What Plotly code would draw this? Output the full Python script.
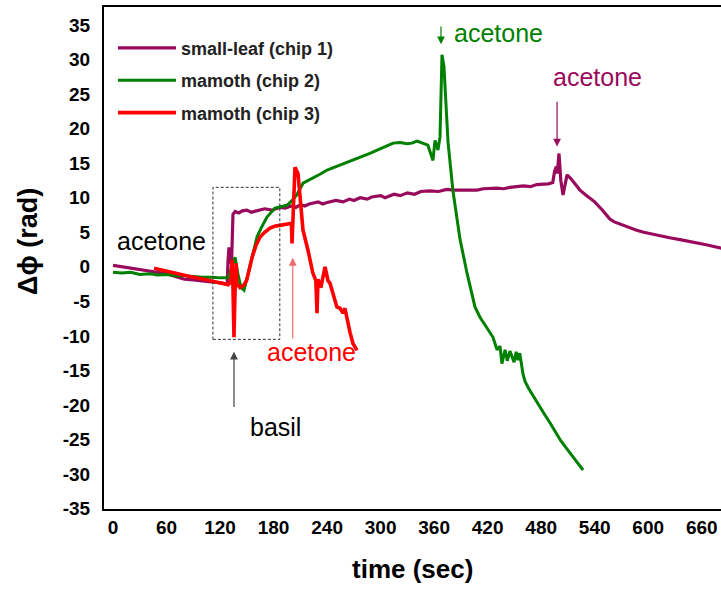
import plotly.graph_objects as go

# ---- data ----
t_chip1 = [0, 10, 20, 30, 40, 50, 60, 70, 80, 90, 100, 110, 120, 128, 129, 130, 131, 132, 133,
           134.5, 137, 141, 145, 150, 155, 160, 165, 170, 178, 187, 193, 200, 205, 210, 215, 220,
           230, 235, 240, 250, 258, 265, 270, 277, 285, 290, 300, 305, 315, 322, 330, 338, 345,
           355, 365, 374, 382, 390, 400, 408, 415, 430, 438, 445, 460, 468, 475, 488, 493, 495,
           497, 498, 500, 502, 504.5, 507, 509, 513, 518, 523.5, 530, 540, 548, 557, 562, 568,
           575, 587, 595, 605, 615, 624, 637, 650, 665, 682]
dphi_chip1 = [0.2, 0.0, -0.2, -0.4, -0.6, -0.8, -1.0, -1.4, -1.8, -1.9, -2.1, -2.2, -2.3, -2.5,
              1.0, 2.8, 2.2, 0.5, 1.0, 7.6, 8.0, 7.8, 8.1, 8.2, 7.9, 8.1, 8.3, 8.4, 8.2, 8.6, 8.5,
              8.8, 8.6, 9.0, 8.8, 9.1, 9.4, 9.1, 9.3, 9.6, 9.4, 9.8, 9.6, 10.0, 9.8, 10.1, 10.3,
              10.0, 10.5, 10.3, 10.7, 10.5, 10.9, 11.0, 10.9, 11.2, 11.1, 11.1, 11.2, 11.1, 11.3,
              11.4, 11.3, 11.5, 11.7, 11.6, 11.9, 12.0, 12.2, 13.8, 14.5, 13.5, 16.4, 12.5, 10.4,
              12.0, 13.3, 12.8, 12.0, 11.1, 10.4, 9.4, 8.3, 6.9, 6.5, 6.2, 5.9, 5.3, 5.0, 4.7,
              4.4, 4.2, 3.9, 3.6, 3.2, 2.7]

t_chip2 = [0, 10, 20, 30, 41.5, 50, 60, 70, 80.7, 90, 100, 112, 120, 129, 133.4, 136.8, 140,
           143.5, 146.9, 153.6, 161.4, 166, 172.6, 181.6, 188, 195, 200, 206, 213, 224, 232, 240,
           252, 265.7, 276, 288, 300, 314, 322, 329.6, 335, 340.8, 347, 353, 358.7, 361, 364.3,
           366.6, 368.8, 371, 375.6, 381, 389, 397, 405.8, 411.4, 418, 426, 430.5, 433.9, 436,
           439.5, 442, 445, 449.6, 452, 454, 456, 459.6, 461.9, 466, 472, 477, 483, 490, 496,
           501.6, 508, 515, 521, 527]
dphi_chip2 = [-0.8, -0.9, -0.8, -1.1, -1.0, -1.2, -1.1, -1.3, -1.3, -1.4, -1.5, -1.5, -1.6, -1.6,
              0.0, 1.4, -1.0, -3.0, -3.4, 0.0, 4.3, 5.6, 7.2, 8.5, 8.7, 8.9, 9.5, 10.4, 12.1,
              12.8, 13.4, 14.0, 14.6, 15.2, 15.8, 16.4, 17.1, 17.9, 18.0, 17.8, 17.9, 18.2, 17.9,
              17.6, 15.4, 18.3, 16.9, 18.8, 30.7, 29.0, 18.0, 11.1, 4.0, -1.0, -5.8, -7.3, -8.6,
              -10.2, -12.0, -11.5, -14.0, -12.0, -13.6, -12.2, -13.8, -12.3, -13.5, -12.5, -15.5,
              -16.6, -17.6, -18.9, -20.0, -21.2, -22.6, -23.9, -25.1, -26.2, -27.3, -28.4, -29.4]

t_chip3 = [46, 55, 64, 75, 86, 98, 109, 120, 129, 132, 133.4, 134.5, 135.6, 136.8, 138, 139,
           142.4, 147, 150, 156, 160, 164.8, 170, 176, 182, 187, 193, 198.4, 200, 200.7, 201.8,
           204, 207.4, 213, 218.6, 224, 227.4, 228.7, 229.8, 233, 237.7, 241, 243.3, 247, 251,
           254.5, 257.8, 260, 262.3, 265.7, 269, 273.5]
dphi_chip3 = [-0.2, -0.5, -0.8, -1.1, -1.4, -1.7, -2.0, -2.3, -2.6, -2.2, 1.0, -3.0, -10.2,
              -3.5, 0.5, -2.5, -3.0, -2.6, -1.9, 1.4, 3.0, 4.3, 5.0, 5.6, 5.9, 6.0, 6.2, 6.3, 6.3,
              3.4, 8.0, 14.4, 13.5, 5.3, 2.4, -0.9, -2.0, -6.7, -1.8, -3.0, 0.0, -2.0, -2.4, -4.0,
              -5.8, -6.0, -6.7, -6.0, -7.7, -9.5, -11.1, -12.1]

series_names = ["small-leaf (chip 1)", "mamoth (chip 2)", "mamoth (chip 3)"]
series_colors = ["#990A5C", "#008000", "#FF0000"]

x_ticks = [0, 60, 120, 180, 240, 300, 360, 420, 480, 540, 600, 660]
y_ticks = [-35, -30, -25, -20, -15, -10, -5, 0, 5, 10, 15, 20, 25, 30, 35]

FONT = "Liberation Sans, Arial, sans-serif"

fig = go.Figure()
for name, xs, ys, col, w in zip(series_names,
                                [t_chip1, t_chip2, t_chip3],
                                [dphi_chip1, dphi_chip2, dphi_chip3],
                                series_colors, [3.2, 3, 3.6]):
    fig.add_trace(go.Scatter(x=xs, y=ys, mode="lines", name=name, legendgroup=name,
                             line=dict(color=col, width=w)))

# dashed box around the basil response
fig.add_shape(type="rect", xref="x", yref="y", x0=112, x1=187, y0=-10.5, y1=11.5,
              line=dict(color="#333333", width=1, dash="3px,2px"))

arrows = [
    # (head x, head y, tail x, tail y, color)
    (135.6, -12.3, 135.6, -20.5, "#444444"),
    (201.5, 1.3, 201.5, -10.6, "#F06A6A"),
    (367.7, 32.2, 367.7, 35.0, "#008000"),
    (497.8, 17.4, 497.8, 24.1, "#990A5C"),
]
for hx, hy, tx, ty, c in arrows:
    fig.add_annotation(x=hx, y=hy, ax=tx, ay=ty, xref="x", yref="y", axref="x", ayref="y",
                       text="", showarrow=True, arrowhead=2, arrowsize=1.3, arrowwidth=1.2,
                       arrowcolor=c, standoff=0)

labels = [
    ("acetone", 54.9, 3.7, "#000000"),
    ("basil", 182.7, -23.2, "#000000"),
    ("acetone", 223.0, -12.3, "#FF0000"),
    ("acetone", 432.7, 33.8, "#008000"),
    ("acetone", 543.7, 27.4, "#990A5C"),
]
for txt, x, y, c in labels:
    fig.add_annotation(x=x, y=y, xref="x", yref="y", text=txt, showarrow=False,
                       font=dict(family=FONT, size=25, color=c))

W, H = 721, 589
ML, MR, MT, MB = 104, 0, 7, 80
pw, ph = W - ML - MR, H - MT - MB

# axis titles (placed by pixel centre, converted to paper coordinates)
fig.add_annotation(x=(28 - ML) / pw, y=1 - (242 - MT) / ph, xref="paper", yref="paper",
                   xanchor="center", yanchor="middle", text="<b>Δϕ (rad)</b>",
                   showarrow=False, textangle=-90, font=dict(family=FONT, size=27, color="black"))
fig.add_annotation(x=(412 - ML) / pw, y=1 - (569 - MT) / ph, xref="paper", yref="paper",
                   xanchor="center", yanchor="middle", text="<b>time (sec)</b>",
                   showarrow=False, font=dict(family=FONT, size=26, color="black"))

fig.update_layout(
    width=W, height=H,
    margin=dict(l=ML, r=MR, t=MT, b=MB),
    paper_bgcolor="white", plot_bgcolor="white",
    font=dict(family=FONT, color="black"),
    showlegend=True,
    legend=dict(x=0.0146, y=0.955, xanchor="left", yanchor="top",
                font=dict(family=FONT, size=18, color="#222222", weight="bold"),
                itemwidth=58, tracegroupgap=6, bgcolor="rgba(0,0,0,0)"),
    xaxis=dict(range=[-10.1, 681.6], tickvals=x_ticks, ticktext=[str(v) for v in x_ticks],
               showgrid=False, zeroline=False, showline=True, linecolor="black", linewidth=2,
               mirror=True, ticks="", ticklabelstandoff=0,
               tickfont=dict(family=FONT, size=19, color="black", weight="bold")),
    yaxis=dict(range=[-35.05, 37.6], tickvals=y_ticks, ticktext=[str(v) for v in y_ticks],
               showgrid=False, zeroline=False, showline=True, linecolor="black", linewidth=2,
               mirror=False, ticks="", ticklabelstandoff=8,
               tickfont=dict(family=FONT, size=19, color="black", weight="bold")),
)

fig.write_html("out.html")
